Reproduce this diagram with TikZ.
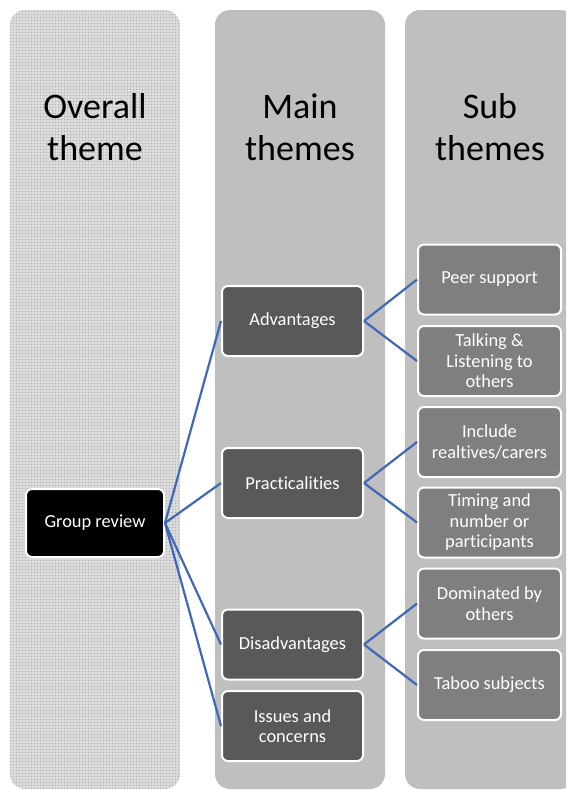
\documentclass[tikz,border=0pt]{standalone}
\usepackage{fontspec}
\setmainfont{Carlito}[Ligatures={NoCommon,NoRequired,NoContextual}]
\usetikzlibrary{patterns.meta}
\definecolor{colgray}{RGB}{191,191,191}
\definecolor{maingray}{RGB}{89,89,89}
\definecolor{subgray}{RGB}{127,127,127}
\definecolor{linkblue}{RGB}{64,104,184}
\tikzset{
  column/.style={rounded corners=15pt},
  header/.style={align=center, font=\fontsize{36}{42}\selectfont, text=black},
  boxbase/.style={draw=white, line width=2pt, rounded corners=6pt, text=white, align=center,
    font=\fontsize{18.4}{20.5}\selectfont, inner sep=0pt},
  rootbox/.style={boxbase, fill=black, minimum width=138pt, minimum height=68pt},
  mainbox/.style={boxbase, fill=maingray, minimum width=141pt, minimum height=70pt},
  subbox/.style={boxbase, fill=subgray, minimum width=143pt, minimum height=70pt},
  link/.style={draw=linkblue, line width=2.2pt}
}
\begin{document}
\begin{tikzpicture}[x=1pt,y=-1pt]
\clip (0,0) rectangle (566,790);
% columns
\fill[column, gray!22] (10,10) rectangle (180,789);
\path[column, pattern={Dots[radius=0.45pt,distance=1.5pt]}, pattern color=gray!75] (10,10) rectangle (180,789);
\fill[column, colgray] (215,10) rectangle (385,789);
\fill[column, colgray] (405,10) rectangle (575,789);
% headers
\node[header] (h1) at (95,127) {Overall\\theme};
\node[header] (h2) at (300,127) {Main\\themes};
\node[header] (h3) at (490,127) {Sub\\themes};
% nodes
\node[rootbox] (gr) at (95,523) {Group review};
\node[mainbox] (adv) at (292.5,321) {Advantages};
\node[mainbox] (pra) at (292.5,483) {Practicalities};
\node[mainbox] (dis) at (292.5,644.5) {Disadvantages};
\node[mainbox] (iss) at (292.5,726) {Issues and\\concerns};
\node[subbox] (peer) at (489.5,279.5) {Peer support};
\node[subbox] (talk) at (489.5,361) {Talking \&\\Listening to\\others};
\node[subbox] (incl) at (489.5,442) {Include\\realtives/carers};
\node[subbox] (timg) at (489.5,522.5) {Timing and\\number or\\participants};
\node[subbox] (dom) at (489.5,603.5) {Dominated by\\others};
\node[subbox] (tab) at (489.5,685) {Taboo subjects};
% connectors
\draw[link] (gr.east) -- (adv.west);
\draw[link] (gr.east) -- (pra.west);
\draw[link] (gr.east) -- (dis.west);
\draw[link] (gr.east) -- (iss.west);
\draw[link] (adv.east) -- (peer.west);
\draw[link] (adv.east) -- (talk.west);
\draw[link] (pra.east) -- (incl.west);
\draw[link] (pra.east) -- (timg.west);
\draw[link] (dis.east) -- (dom.west);
\draw[link] (dis.east) -- (tab.west);
\end{tikzpicture}
\end{document}
